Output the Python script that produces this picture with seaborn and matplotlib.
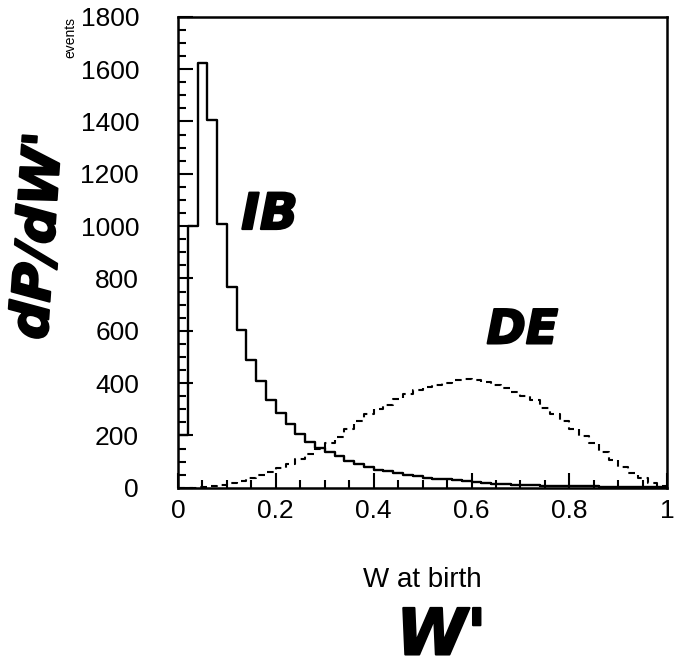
import numpy as np
import pandas as pd
import seaborn as sns
import matplotlib
matplotlib.use("Agg")
import matplotlib.pyplot as plt
import matplotlib.patheffects as pe
from matplotlib.ticker import MultipleLocator, FixedLocator, FuncFormatter

# bins of W at birth, 0.02 wide
edges = np.linspace(0, 1, 51)
centers = 0.5 * (edges[:-1] + edges[1:])

# inner bremsstrahlung (solid)
ib = [200, 1000, 1622, 1406, 1009, 766, 602, 487, 408, 337,
      285, 243, 205, 175, 153, 136, 120, 103, 89, 80,
      69, 63, 55, 48, 44, 38, 34, 32, 28, 25,
      22, 19, 15, 13, 11, 10, 9, 8, 7, 6,
      6, 5, 5, 4, 4, 3, 3, 2, 2, 2]

# direct emission (dashed)
de = [0, 0, 2, 5, 10, 18, 26, 37, 48, 60,
      75, 90, 110, 128, 148, 170, 195, 225, 255, 280,
      302, 318, 338, 358, 374, 384, 394, 402, 410, 414,
      412, 404, 394, 382, 366, 352, 336, 305, 280, 256,
      225, 198, 172, 136, 105, 78, 55, 36, 20, 8]

xticks = [0, 0.2, 0.4, 0.6, 0.8, 1]
yticks = list(range(0, 2000, 200))

df = pd.DataFrame({"w": centers, "ib": ib, "de": de})
bin_list = edges.tolist()  # seaborn chokes on an ndarray here

sns.set_style("white")
plt.rcParams['font.family'] = ['Liberation Sans', 'DejaVu Sans']

fig = plt.figure(figsize=(6.74, 6.70), dpi=100)
ax = fig.add_axes([0.264, 0.272, 0.726, 0.703])

sns.histplot(data=df, x="w", weights="ib", bins=bin_list, element="step",
             fill=False, color="black", linewidth=1.7, ax=ax)
sns.histplot(data=df, x="w", weights="de", bins=bin_list, element="step",
             fill=False, color="black", linewidth=1.5,
             linestyle=(0, (3.2, 2.4)), ax=ax)

ax.set_xlim(0, 1)
ax.set_ylim(0, 1800)
ax.xaxis.set_major_locator(FixedLocator(xticks))
ax.xaxis.set_minor_locator(MultipleLocator(0.05))
ax.yaxis.set_major_locator(FixedLocator(yticks))
ax.yaxis.set_minor_locator(MultipleLocator(50))
ax.xaxis.set_major_formatter(FuncFormatter(lambda v, p: "%g" % v))

ax.tick_params(which="both", direction="in", color="black", width=1.5,
               bottom=True, left=True, top=False, right=False,
               labelcolor="black")
ax.tick_params(which="major", length=11)
ax.tick_params(which="minor", length=5.5)
ax.tick_params(axis="x", which="major", labelsize=19, pad=8)
ax.tick_params(axis="y", which="major", labelsize=19, pad=28)

for s in ax.spines.values():
    s.set_color("black")
    s.set_linewidth(1.8)

ax.set_xlabel("W at birth", fontsize=20, labelpad=32, color="black")
ax.set_ylabel("events", fontsize=10, loc="top", labelpad=2, color="black")

# handwritten notes on the scan
hand = dict(color="black", fontweight="bold", fontstyle="italic",
            family="DejaVu Sans",
            path_effects=[pe.withStroke(linewidth=1.5, foreground="black")])
fig.text(0.058, 0.648, "dP/dW'", fontsize=38, rotation=86,
         ha="center", va="center", **hand)
fig.text(0.400, 0.679, "IB", fontsize=36, ha="center", va="center", **hand)
fig.text(0.775, 0.506, "DE", fontsize=34, ha="center", va="center", **hand)
fig.text(0.655, 0.050, "W'", fontsize=46, ha="center", va="center", **hand)

fig.savefig("out.png", dpi=100)
